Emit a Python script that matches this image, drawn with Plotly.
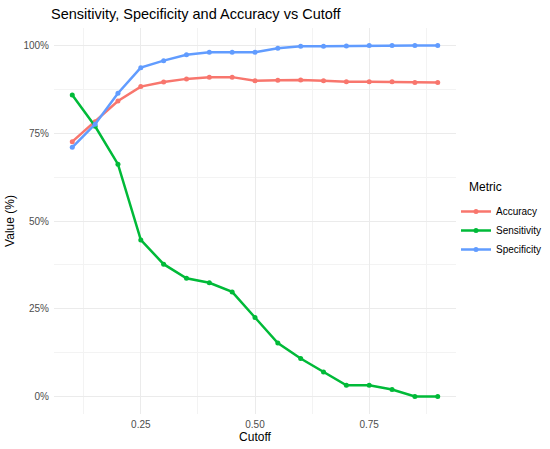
import plotly.graph_objects as go

cutoff = [0.10, 0.15, 0.20, 0.25, 0.30, 0.35, 0.40, 0.45, 0.50, 0.55, 0.60, 0.65, 0.70, 0.75, 0.80, 0.85, 0.90]
accuracy = [72.6, 78.3, 84.2, 88.3, 89.6, 90.5, 91.0, 91.0, 90.0, 90.1, 90.2, 90.0, 89.7, 89.7, 89.7, 89.5, 89.5]
sensitivity = [85.9, 77.0, 66.2, 44.6, 37.7, 33.7, 32.4, 29.8, 22.5, 15.2, 10.8, 7.0, 3.2, 3.2, 2.0, 0.0, 0.0]
specificity = [71.0, 77.6, 86.4, 93.7, 95.7, 97.4, 98.1, 98.1, 98.1, 99.2, 99.8, 99.8, 99.9, 100.0, 100.0, 100.0, 100.0]

series_names = ["Accuracy", "Sensitivity", "Specificity"]
series_values = [accuracy, sensitivity, specificity]
colors = ["#F8766D", "#00BA38", "#619CFF"]

x_ticks = [0.25, 0.50, 0.75]
x_ticklabels = ["0.25", "0.50", "0.75"]
y_ticks = [0, 25, 50, 75, 100]
y_ticklabels = ["0%", "25%", "50%", "75%", "100%"]

FONT = "Liberation Sans, Arial, sans-serif"

fig = go.Figure()
for name, vals, col in zip(series_names, series_values, colors):
    fig.add_trace(go.Scatter(
        x=cutoff, y=vals, name=name, mode="lines+markers",
        line=dict(color=col, width=2.5),
        marker=dict(color=col, size=5),
    ))

fig.add_annotation(
    text="Metric", xref="paper", yref="paper",
    x=(467 - 54) / 402, y=(414 - 187) / 386, xanchor="left", yanchor="middle",
    showarrow=False, font=dict(size=12, color="black", family=FONT),
)

fig.update_layout(
    width=550, height=449,
    margin=dict(l=54, r=94, t=28, b=35, autoexpand=False),
    paper_bgcolor="white", plot_bgcolor="white",
    font=dict(family=FONT, color="black"),
    title=dict(text="Sensitivity, Specificity and Accuracy vs Cutoff",
               x=51/550, xanchor="left", y=1-14/449, yanchor="middle",
               font=dict(size=14.5, color="black", family=FONT)),
    showlegend=True,
    legend=dict(
        font=dict(size=10, color="black"),
        x=1.0, xanchor="left", y=(414 - 197) / 386, yanchor="top",
        bgcolor="rgba(0,0,0,0)", tracegroupgap=0, itemwidth=30,
    ),
    xaxis=dict(
        range=[0.06, 0.94], tickvals=x_ticks, ticktext=x_ticklabels,
        showgrid=True, gridcolor="#EBEBEB", gridwidth=1,
        zeroline=False, showline=False, ticks="",
        ticklabelstandoff=3,
        tickfont=dict(size=10, color="#4D4D4D"),
        title=dict(text="Cutoff", font=dict(size=12, color="black"), standoff=2),
        minor=dict(tickvals=[0.125, 0.375, 0.625, 0.875], showgrid=True,
                   gridcolor="#F3F3F3", gridwidth=0.6),
    ),
    yaxis=dict(
        range=[-5, 105], tickvals=y_ticks, ticktext=y_ticklabels,
        showgrid=True, gridcolor="#EBEBEB", gridwidth=1,
        zeroline=False, showline=False, ticks="",
        ticklabelstandoff=4,
        tickfont=dict(size=10, color="#4D4D4D"),
        title=dict(text="Value (%)", font=dict(size=12, color="black"), standoff=6),
        minor=dict(tickvals=[12.5, 37.5, 62.5, 87.5], showgrid=True,
                   gridcolor="#F3F3F3", gridwidth=0.6),
    ),
)

fig.write_html("out.html", config={"displayModeBar": False},
               post_script="document.body.style.margin='0';")
